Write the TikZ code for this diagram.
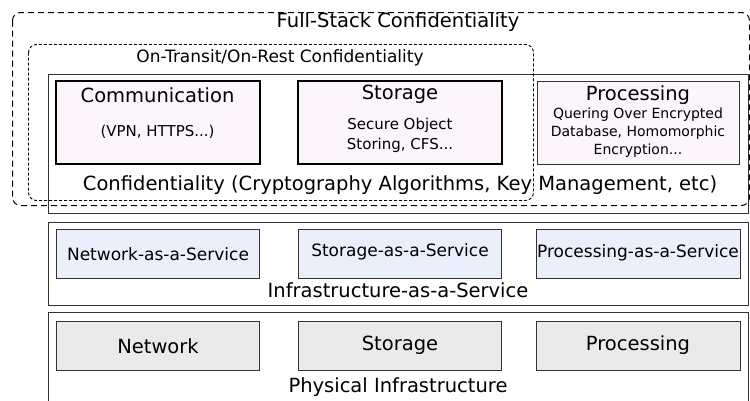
\documentclass[tikz,border=0pt]{standalone}
\usepackage{fontspec}
\setmainfont{DejaVu Sans}
\begin{document}
\begin{tikzpicture}[x=1pt,y=-1pt,
  layer/.style={draw=black!80,line width=1pt,rectangle,inner sep=0pt},
  topbox/.style={draw=black,line width=2pt,fill=pinkfill,rectangle,inner sep=0pt,minimum width=204pt,minimum height=83pt},
  procbox/.style={draw=black!80,line width=1pt,fill=pinkfill,rectangle,inner sep=0pt,minimum width=202pt,minimum height=83pt},
  iaasbox/.style={draw=black!80,line width=1pt,fill=bluefill,rectangle,inner sep=0pt,minimum width=203pt,minimum height=49pt},
  physbox/.style={draw=black!80,line width=1pt,fill=grayfill,rectangle,inner sep=0pt,minimum width=203pt,minimum height=49pt},
  txt/.style={inner sep=0pt,font=\fontsize{17}{20}\selectfont},
  bigtxt/.style={inner sep=0pt,font=\fontsize{19.5}{22}\selectfont},
  smalltxt/.style={inner sep=0pt,font=\fontsize{15}{18}\selectfont},
  midtxt/.style={inner sep=0pt,font=\fontsize{14}{18}\selectfont},
]
\definecolor{pinkfill}{HTML}{FCF5FB}
\definecolor{bluefill}{HTML}{EBEFFC}
\definecolor{grayfill}{HTML}{EAEAEA}
\useasboundingbox (0,0) rectangle (750,400);
\clip (0,0) rectangle (750,400);

% layers
\node[layer,minimum width=700pt,minimum height=139pt] (conf) at (398.5,144) {};
\node[layer,minimum width=700pt,minimum height=83pt] (iaas) at (398.5,264) {};
\node[layer,minimum width=700pt,minimum height=95pt] (phys) at (398.5,360) {};

% confidentiality boxes
\node[topbox] (comm) at (158,122.5) {};
\node[topbox] (stor) at (400,122.5) {};
\node[procbox] (proc) at (638.5,123) {};

\node[bigtxt] (commT) at (157.5,95) {Communication};
\node[smalltxt] (commS) at (157.5,132) {(VPN, HTTPS...)};
\node[bigtxt] (storT) at (400,94) {Storage};
\node[smalltxt,align=center,font=\fontsize{15}{20}\selectfont] (storS) at (400,135) {Secure Object\\Storing, CFS...};
\node[bigtxt] (procT) at (638,95) {Processing};
\node[midtxt,align=center] (procS) at (638,132.5) {Quering Over Encrypted\\Database, Homomorphic\\Encryption...};
\node[bigtxt] (confT) at (400,185) {Confidentiality (Cryptography Algorithms, Key Management, etc)};

% dashed regions
\draw[dash pattern=on 6pt off 4pt,line width=1pt,rounded corners=8pt] (12.5,12.5) rectangle (749.5,205.5);
\node[bigtxt] (fullT) at (398,22) {Full-Stack Confidentiality};
\draw[dash pattern=on 3pt off 2pt,line width=0.9pt,rounded corners=8pt] (28.5,44.5) rectangle (533.5,200.5);
\node[smalltxt,font=\fontsize{17}{20}\selectfont] (transT) at (280,58) {On-Transit/On-Rest Confidentiality};

% IaaS
\node[iaasbox] (naas) at (158,254) {};
\node[iaasbox] (saas) at (400,254) {};
\node[iaasbox,minimum width=204pt] (paas) at (638,254) {};
\node[txt] at (naas) {Network-as-a-Service};
\node[txt] at ([yshift=2pt]saas.center) {Storage-as-a-Service};
\node[txt] at ([yshift=1pt]paas.center) {Processing-as-a-Service};
\node[bigtxt] (iaasT) at (398,290) {Infrastructure-as-a-Service};

% Physical
\node[physbox] (net) at (158,346) {};
\node[physbox] (st) at (400,346) {};
\node[physbox,minimum width=204pt] (pr) at (638,346) {};
\node[bigtxt] at ([yshift=-0.5pt]net.center) {Network};
\node[bigtxt] at ([yshift=1pt]st.center) {Storage};
\node[bigtxt] at ([yshift=1pt]pr.center) {Processing};
\node[bigtxt] (physT) at (398,387) {Physical Infrastructure};
\end{tikzpicture}
\end{document}
